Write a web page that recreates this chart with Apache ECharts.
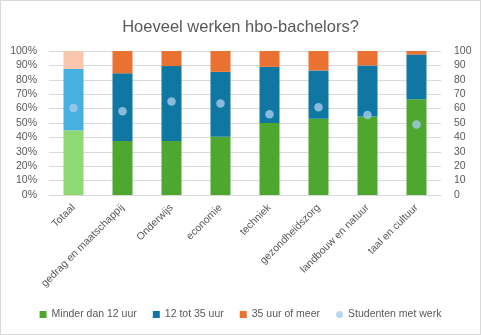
<!DOCTYPE html>
<html><head><meta charset="utf-8">
<script src="https://cdn.jsdelivr.net/npm/echarts@6/dist/echarts.min.js"></script>
<style>html,body{margin:0;padding:0;background:#fff}#c{position:absolute;left:0;top:0;width:479px;height:333px;border:1px solid #d9d9d9;}</style>
</head><body><div id="c"></div>
<script>
const categories = ["Totaal","gedrag en maatschappij","Onderwijs","economie","techniek","gezondheidszorg","landbouw en natuur","taal en cultuur"];
const minder12 = [45, 37.5, 37.5, 40.5, 50, 53, 54.5, 66.5];
const tot35 = [42.5, 47, 52, 45, 39, 33.5, 35.5, 31];
const meer35 = [12.5, 15.5, 10.5, 14.5, 11, 13.5, 10, 2.5];
const metWerk = [60.5, 58.2, 65, 63.6, 56, 61, 55.6, 49];
const leftTicks = ["0%","10%","20%","30%","40%","50%","60%","70%","80%","90%","100%"];

const txt = '#595959';
const font = 'Liberation Sans';
function withFirst(arr, c){ return arr.map((v,i)=> i===0 ? {value:v, itemStyle:{color:c}} : v); }

const chart = echarts.init(document.getElementById('c'), null, {renderer:'canvas'});
chart.setOption({
  animation:false,
  textStyle:{fontFamily:font},
  title:{text:'Hoeveel werken hbo-bachelors?', left:'center', top:13,
    textStyle:{fontSize:16.5, fontWeight:'normal', color:txt, fontFamily:font}},
  grid:{left:48, right:39, top:50, bottom:139, containLabel:false},
  legend:{bottom:9, left:'center', itemWidth:7, itemHeight:7, itemGap:16,
    textStyle:{fontSize:10.5, color:txt, fontFamily:font},
    data:[{name:'Minder dan 12 uur', icon:'rect'},{name:'12 tot 35 uur', icon:'rect'},{name:'35 uur of meer', icon:'rect'},{name:'Studenten met werk', icon:'circle'}]},
  xAxis:{type:'category', data:categories,
    axisLine:{lineStyle:{color:'#d9d9d9'}}, axisTick:{show:false},
    axisLabel:{rotate:45, interval:0, color:txt, fontSize:10.5, fontFamily:font, margin:11}},
  yAxis:[
    {type:'value', min:0, max:100, interval:10,
      axisLabel:{color:txt, fontSize:10.5, fontFamily:font, margin:12, formatter:(v)=>leftTicks[Math.round(v/10)]},
      splitLine:{lineStyle:{color:'#d9d9d9'}}, axisLine:{show:false}, axisTick:{show:false}},
    {type:'value', min:0, max:100, interval:10, position:'right',
      axisLabel:{color:txt, fontSize:10.5, fontFamily:font, margin:13},
      splitLine:{show:false}, axisLine:{show:false}, axisTick:{show:false}}
  ],
  series:[
    {name:'Minder dan 12 uur', type:'bar', stack:'a', barWidth:20, itemStyle:{color:'#4ea72e'}, data:withFirst(minder12,'#8ed973')},
    {name:'12 tot 35 uur', type:'bar', stack:'a', barWidth:20, itemStyle:{color:'#0f77a1'}, data:withFirst(tot35,'#45b0e1')},
    {name:'35 uur of meer', type:'bar', stack:'a', barWidth:20, itemStyle:{color:'#e97132'}, data:withFirst(meer35,'#f7c6ac')},
    {name:'Studenten met werk', type:'scatter', yAxisIndex:1, symbolSize:8.5, itemStyle:{color:'#a6caec'}, data:metWerk, z:5}
  ]
});
</script></body></html>
